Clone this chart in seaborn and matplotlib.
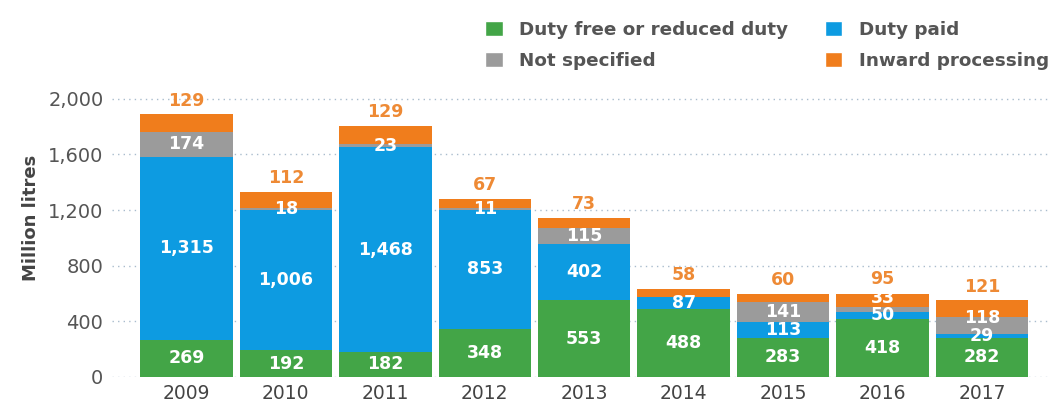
import matplotlib

matplotlib.use("Agg")
import matplotlib.pyplot as plt
import numpy as np
import pandas as pd
import seaborn as sns
from matplotlib.patches import Patch

years = ["2009", "2010", "2011", "2012", "2013", "2014", "2015", "2016", "2017"]
duty_free = [269, 192, 182, 348, 553, 488, 283, 418, 282]
duty_paid = [1315, 1006, 1468, 853, 402, 87, 113, 50, 29]
not_specified = [174, 18, 23, 11, 115, 0, 141, 33, 118]
inward = [129, 112, 129, 67, 73, 58, 60, 95, 121]

series = [
    ("Duty free or reduced duty", duty_free, "#43a547"),
    ("Duty paid", duty_paid, "#0d9be1"),
    ("Not specified", not_specified, "#9b9b9b"),
    ("Inward processing", inward, "#f07d1c"),
]

sns.set_style("white")
plt.rcParams["font.family"] = ["DejaVu Sans"]

fig = plt.figure(figsize=(10.54, 4.12), dpi=100)
ax = fig.add_axes([0.106, 0.085, 0.89, 0.77])

# stacked bars: draw cumulative totals, tallest first
cum = np.cumsum(np.array([s[1] for s in series]), axis=0)
for i in range(len(series) - 1, -1, -1):
    df = pd.DataFrame({"year": years, "value": cum[i]})
    sns.barplot(data=df, x="year", y="value", color=series[i][2], width=0.93,
                saturation=1, linewidth=0, edgecolor="none", ax=ax, zorder=2)

# value labels inside segments, nudged apart when segments are thin
min_gap = 125
for j in range(len(years)):
    prev = -1e9
    bottom = 0
    for name, vals, col in series[:3]:
        v = vals[j]
        if v > 0:
            y = max(bottom + v / 2, prev + min_gap)
            ax.text(j, y, f"{v:,}", ha="center", va="center", color="white",
                    fontsize=12.5, fontweight="bold", zorder=3)
            prev = y
        bottom += v
    top = bottom + inward[j]
    ax.text(j, max(top + 35, prev + 75), f"{inward[j]:,}", ha="center", va="bottom",
            color="#ee8a35", fontsize=12.5, fontweight="bold", zorder=3)

ax.set_xlim(-0.75, 8.68)
ax.set_ylim(0, 2280)
ax.set_yticks([0, 400, 800, 1200, 1600, 2000])
ax.set_yticklabels([f"{t:,}" for t in [0, 400, 800, 1200, 1600, 2000]])
ax.yaxis.grid(True, linestyle=(0, (1, 3)), color="#a9bccd", linewidth=1)
ax.set_axisbelow(True)
for s in ax.spines.values():
    s.set_visible(False)
ax.tick_params(axis="y", length=0, pad=6, labelsize=14, labelcolor="#555555")
ax.tick_params(axis="x", length=0, pad=5, labelsize=13.5, labelcolor="#444444")
ax.set_xlabel("")
ax.set_ylabel("Million litres", fontsize=13, fontweight="bold", color="#444444",
              labelpad=6)

handles = [Patch(facecolor=series[k][2], label=series[k][0]) for k in [0, 2, 1, 3]]
fig.legend(handles=handles, ncol=2, loc="upper right", bbox_to_anchor=(0.995, 0.95),
           frameon=False, borderpad=0, borderaxespad=0,
           handlelength=0.95, handleheight=0.95, handletextpad=0.9,
           columnspacing=2.0, labelspacing=0.7,
           prop={"size": 13.2, "weight": "bold"}, labelcolor="#555555")

plt.savefig("out.png", dpi=100)
plt.close()
